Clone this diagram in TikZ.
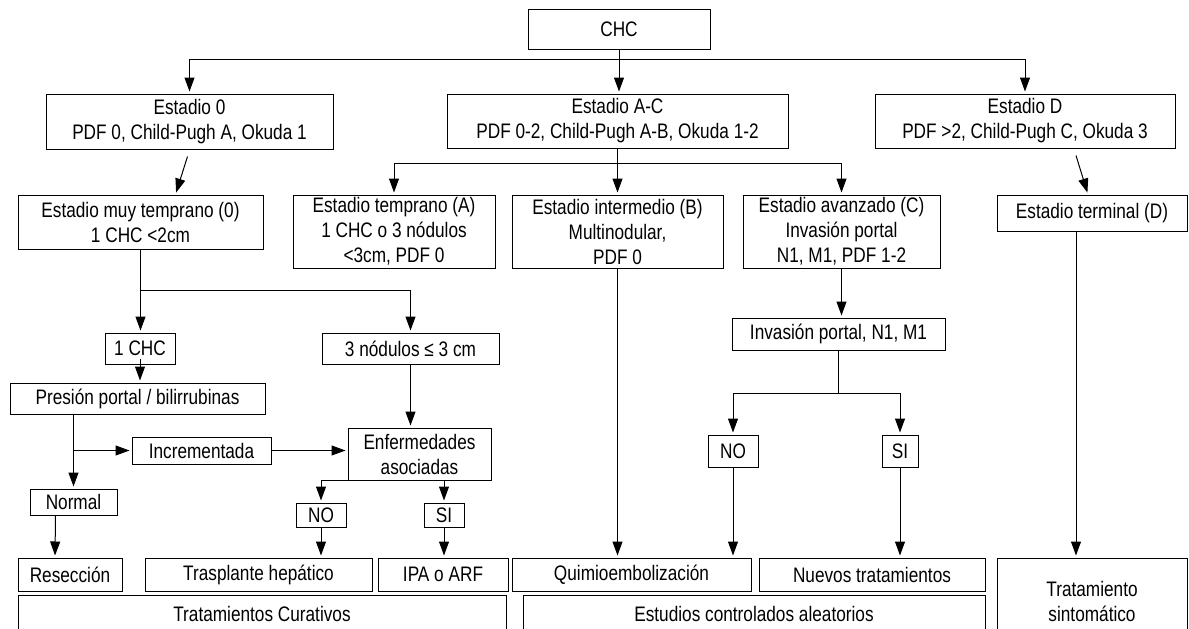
\documentclass[tikz,border=0pt]{standalone}
\usepackage{fontspec}
\setmainfont{Liberation Sans}[FakeStretch=0.82]
\usetikzlibrary{calc,arrows.meta}

\begin{document}
\begin{tikzpicture}[x=1pt, y=-1pt, font=\fontsize{21}{25}\selectfont, line width=1pt]
  \tikzset{
    caja/.style={draw, inner sep=0pt, align=center},
    flecha/.style={-{Triangle[length=14pt, width=10pt]}, shorten >=2pt}
  }
  \useasboundingbox (0,0) rectangle (1189,629);
  \clip (0,0) rectangle (1189,629);

  % Nivel 1
  \node[caja, minimum width=182pt, minimum height=40pt] (CHC) at (619,29) {CHC};
  \node[caja, minimum width=287pt, minimum height=55pt] (E0) at (189.5,121.5)
    {Estadio 0\\PDF 0, Child-Pugh A, Okuda 1};
  \node[caja, minimum width=341pt, minimum height=54pt] (EAC) at (617.5,121)
    {Estadio A-C\\PDF 0-2, Child-Pugh A-B, Okuda 1-2};
  \node[caja, minimum width=300pt, minimum height=54pt] (ED) at (1025,121)
    {Estadio D\\PDF >2, Child-Pugh C, Okuda 3};

  % Nivel 2
  \node[caja, minimum width=245pt, minimum height=54pt] (E0m) at (140.5,222)
    {Estadio muy temprano (0)\\1 CHC <2cm};
  \node[caja, minimum width=202pt, minimum height=73pt] (EA) at (394,231.5)
    {Estadio temprano (A)\\1 CHC o 3 nódulos\\<3cm, PDF 0};
  \node[caja, minimum width=211pt, minimum height=73pt] (EB) at (617.5,231.5)
    {Estadio intermedio (B)\\Multinodular,\\PDF 0};
  \node[caja, minimum width=197pt, minimum height=73pt] (EC) at (841.5,231.5)
    {Estadio avanzado (C)\\Invasión portal\\N1, M1, PDF 1-2};
  \node[caja, minimum width=190pt, minimum height=36pt] (EDt) at (1092,213)
    {Estadio terminal (D)};

  % --- rama 0 ---
  \node[caja, minimum width=70pt, minimum height=31pt] (UnCHC) at (140,348.5) {1 CHC};
  \node[caja, minimum width=177pt, minimum height=31pt] (Tres) at (410.5,348.5) {3 nódulos ≤ 3 cm};
  \node[caja, minimum width=255pt, minimum height=31pt] (Pres) at (137.5,398.5)
    {Presión portal / bilirrubinas};
  \node[caja, minimum width=139pt, minimum height=27pt] (Incr) at (201.5,450.5) {Incrementada};
  \node[caja, minimum width=143pt, minimum height=52pt] (Enf) at (419.5,454)
    {Enfermedades\\asociadas};
  \node[caja, minimum width=87pt, minimum height=26pt] (Normal) at (73.5,502) {Normal};
  \node[caja, minimum width=50pt, minimum height=24pt] (NoL) at (321,515) {NO};
  \node[caja, minimum width=40pt, minimum height=24pt] (SiL) at (444,515) {SI};

  % --- rama C ---
  \node[caja, minimum width=213pt, minimum height=32pt] (Inv) at (838.5,334)
    {Invasión portal, N1, M1};
  \node[caja, minimum width=50pt, minimum height=32pt] (NoR) at (733,451) {NO};
  \node[caja, minimum width=36pt, minimum height=32pt] (SiR) at (900,451) {SI};

  % Tratamientos
  \node[caja, minimum width=104pt, minimum height=33pt] (Resec) at (70,574.5) {Resección};
  \node[caja, minimum width=227pt, minimum height=33pt] (Trasp) at (258.5,574.5) {Trasplante hepático};
  \node[caja, minimum width=130pt, minimum height=33pt] (IPA) at (443,574.5) {IPA o ARF};
  \node[caja, minimum width=239pt, minimum height=33pt] (Quimio) at (631.5,574.5) {Quimioembolización};
  \node[caja, minimum width=226pt, minimum height=33pt] (Nuevos) at (872,574.5) {Nuevos tratamientos};
  \node[caja, minimum width=488pt, minimum height=38pt] (Cur) at (262,614) {Tratamientos Curativos};
  \node[caja, minimum width=462pt, minimum height=38pt] (Est) at (754,614)
    {Estudios controlados aleatorios};
  \node[caja, minimum width=190pt, minimum height=86pt] (Sint) at (1092,601)
    {Tratamiento\\sintomático};

  % Conectores nivel 1
  \coordinate (B1) at ($(CHC.south)+(0,10)$);
  \draw[flecha] (B1) -| (E0.north);
  \draw[flecha] (B1) -| (ED.north);
  \draw[flecha] (CHC.south) -- (CHC.south |- EAC.north);
  \draw[flecha] ($(E0.south)+(-2,7)$) -- ($(E0m.north)+(35,0)$);
  \draw[flecha] ($(ED.south)+(51,7)$) -- ($(EDt.north)+(-4,0)$);

  \coordinate (B2) at ($(EAC.south)+(0,15)$);
  \draw (EAC.south) -- (B2);
  \draw[flecha] (B2) -| (EA.north);
  \draw[flecha] (B2) -| (EC.north);
  \draw[flecha] (B2) -- (EB.north);

  % Conectores rama 0
  \coordinate (B3) at ($(E0m.south)+(0,41)$);
  \draw (E0m.south) -- (B3);
  \draw[flecha] (B3) -- (B3 |- UnCHC.north);
  \draw[flecha] (B3) -| (Tres.north);
  \draw[flecha] ($(UnCHC.south)+(0,-6)$) -- (UnCHC.south |- Pres.north);

  \coordinate (P1) at (Normal.north |- Pres.south);
  \coordinate (P2) at (P1 |- Incr.west);
  \draw[flecha] (P1) -- (Normal.north);
  \draw[flecha] (P2) -- (Incr.west);
  \draw[flecha] (Incr.east) -- (Incr.east -| Enf.west);
  \draw[flecha] (Tres.south) -- (Tres.south |- Enf.north);
  \draw[flecha] (Enf.south west) -| (NoL.north);
  \draw[flecha] (Enf.south -| SiL.north) -- (SiL.north);
  \draw[flecha] (NoL.south) -- (NoL.south |- Trasp.north);
  \draw[flecha] (SiL.south) -- (SiL.south |- IPA.north);
  \draw[flecha] ($(Normal.south)+(-18,0)$) -- ($(Resec.north)+(-15,0)$);

  % Conectores B, C, D
  \draw[flecha] (EB.south) -- (EB.south |- Quimio.north);
  \draw[flecha] (EC.south) -- (EC.south |- Inv.north);
  \coordinate (B5) at ($(Inv.south)+(0,43)$);
  \draw (Inv.south) -- (B5);
  \draw[flecha] (B5) -| (NoR.north);
  \draw[flecha] (B5) -| (SiR.north);
  \draw[flecha] (NoR.south) -- (NoR.south |- Quimio.north);
  \draw[flecha] (SiR.south) -- (SiR.south |- Nuevos.north);
  \draw[flecha] ($(EDt.south)+(-16,0)$) -- ($(Sint.north)+(-16,0)$);
\end{tikzpicture}
\end{document}
